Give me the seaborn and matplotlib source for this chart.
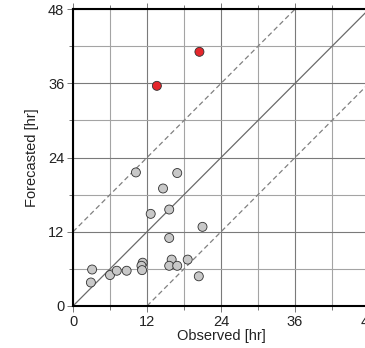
import matplotlib
matplotlib.use("Agg")
import matplotlib.pyplot as plt
from matplotlib.ticker import MultipleLocator
import seaborn as sns
import pandas as pd

# Observed vs forecasted durations (hours)
observed = [3.1, 2.9, 6.0, 7.1, 8.7, 11.3, 11.1, 11.2, 16.0, 15.6, 16.9, 18.6,
            20.4, 15.6, 21.0, 12.6, 15.6, 14.6, 16.9, 10.2, 13.6, 20.5]
forecasted = [5.9, 3.8, 5.0, 5.7, 5.7, 7.0, 6.5, 5.8, 7.5, 6.5, 6.5, 7.5,
              4.8, 11.0, 12.8, 14.9, 15.6, 19.0, 21.5, 21.6, 35.6, 41.1]
outlier = [False] * 20 + [True, True]

ticks = [0, 12, 24, 36, 48]
tick_labels = ["0", "12", "24", "36", "48"]
band = 12

df = pd.DataFrame({"Observed": observed, "Forecasted": forecasted, "outlier": outlier})

sns.set_style("white")
plt.rcParams["font.family"] = ["Liberation Sans", "DejaVu Sans"]

fig = plt.figure(figsize=(3.65, 3.48), dpi=100)
ax = fig.add_axes([0.2, 0.1207, 0.811, 0.853])

ax.set_xlim(0, 48)
ax.set_ylim(0, 48)

# Grid: major every 12 h, minor every 6 h
ax.xaxis.set_major_locator(MultipleLocator(12))
ax.yaxis.set_major_locator(MultipleLocator(12))
ax.xaxis.set_minor_locator(MultipleLocator(6))
ax.yaxis.set_minor_locator(MultipleLocator(6))
ax.grid(which="major", color="#7a7a7a", linewidth=0.8)
ax.grid(which="minor", color="#a4a4a4", linewidth=0.8)
ax.set_axisbelow(True)

# Perfect forecast line and +/- 12 h band
ax.axline((0, 0), slope=1, color="#6a6a6a", linewidth=0.9, zorder=1.5)
ax.axline((0, band), slope=1, color="#808080", linewidth=0.9, linestyle=(0, (4, 2.5)), zorder=1.5)
ax.axline((0, -band), slope=1, color="#808080", linewidth=0.9, linestyle=(0, (4, 2.5)), zorder=1.5)

sns.scatterplot(data=df, x="Observed", y="Forecasted", hue="outlier",
                palette={False: "#c8c8c8", True: "#e5262b"},
                s=42, edgecolor="#303030", linewidth=0.6, legend=False,
                ax=ax, zorder=3)

ax.set_xticks(ticks)
ax.set_xticklabels(tick_labels)
ax.set_yticks(ticks)
ax.set_yticklabels(tick_labels)

for side in ("left", "bottom", "top", "right"):
    ax.spines[side].set_color("black")
    ax.spines[side].set_linewidth(1.5)

ax.tick_params(which="major", direction="out", length=4.3, width=0.6, color="#606060",
               labelsize=10.5, pad=2.0, labelcolor="#222222",
               top=True, left=True, bottom=True)
ax.tick_params(which="minor", direction="out", length=2.8, width=0.6, color="#606060",
               top=True, left=True, bottom=True)
ax.tick_params(axis="x", which="both", labeltop=False)

ax.set_xlabel("Observed [hr]", fontsize=10.5, labelpad=0.5, color="#222222")
ax.set_ylabel("Forecasted [hr]", fontsize=10.5, labelpad=6.5, color="#222222")

fig.savefig("out.png", dpi=100)
